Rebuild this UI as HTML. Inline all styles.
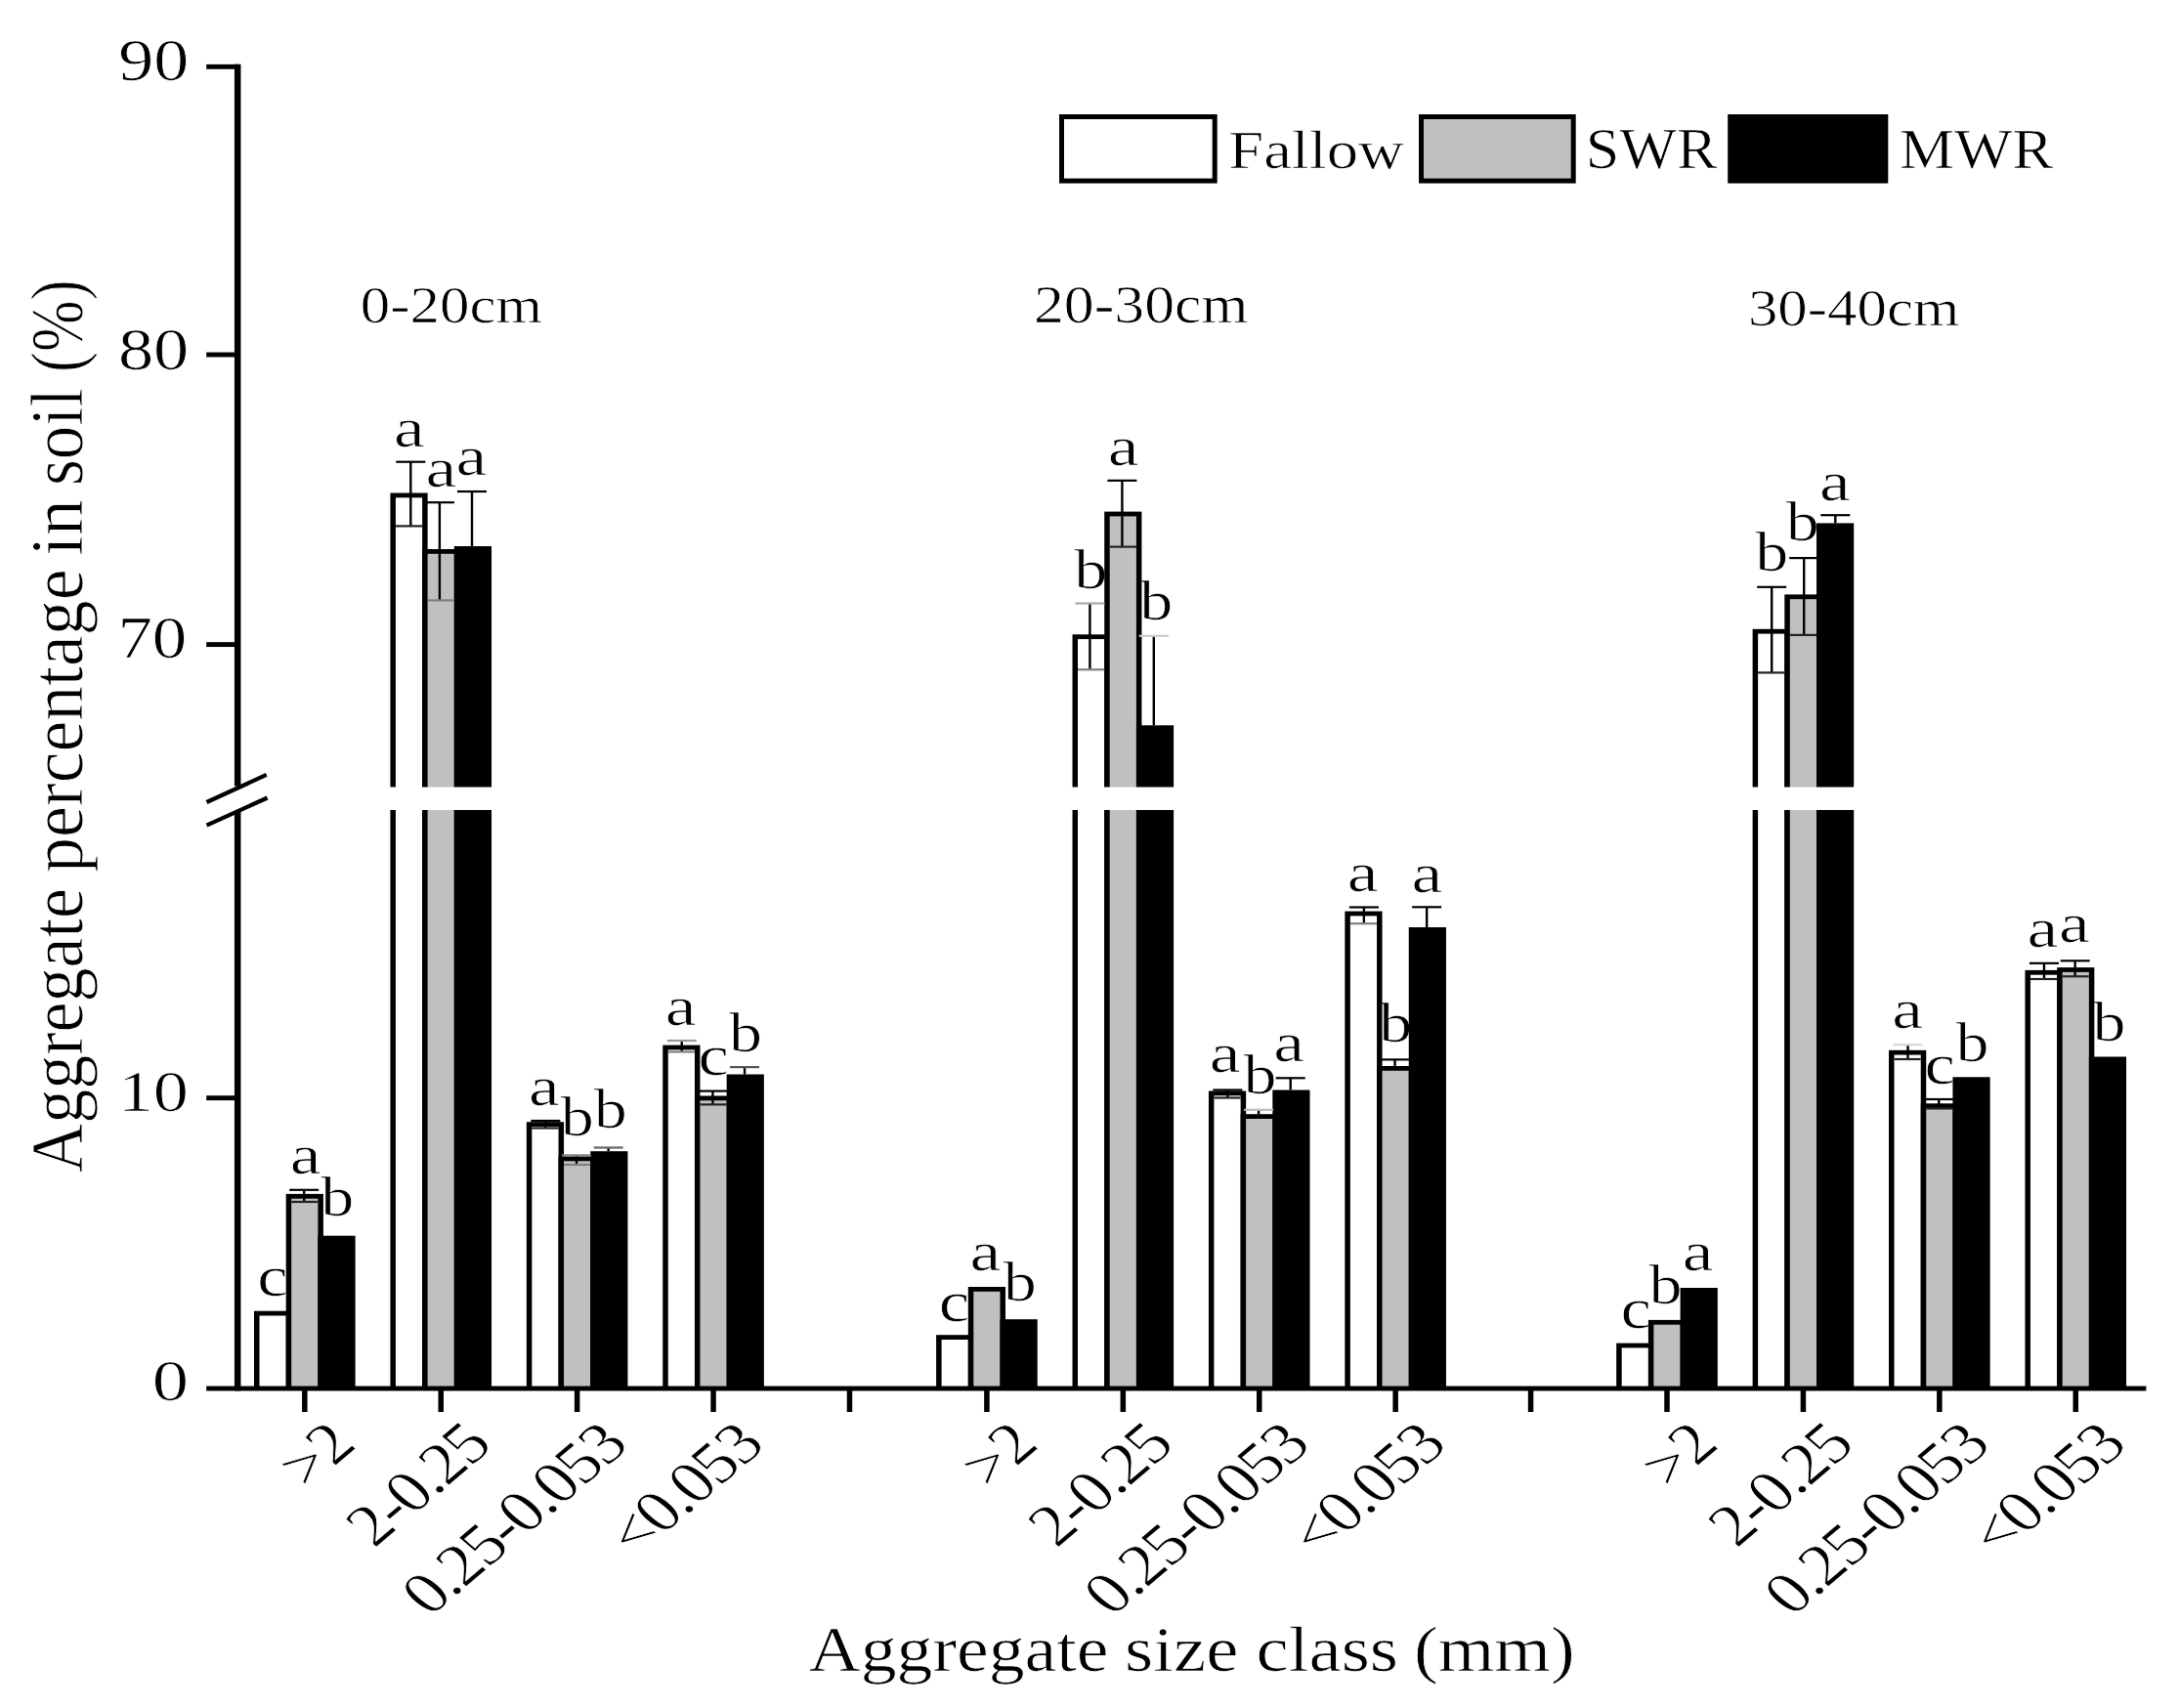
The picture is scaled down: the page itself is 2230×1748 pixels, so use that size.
<!DOCTYPE html>
<html lang="en"><head><meta charset="utf-8"><title>Aggregate percentage in soil</title>
<style>html,body{margin:0;padding:0;background:#fff}svg{display:block}text{stroke:#fff;stroke-width:0.7px;stroke-linejoin:round}</style>
</head><body>
<svg width="2230" height="1748" viewBox="0 0 2230 1748" font-family="'Liberation Serif', serif" fill="#000">
<rect width="2230" height="1748" fill="#fff"/>
<g id="letters">
<text transform="translate(263.3,1325.9) scale(1.2,1)" font-size="59.0">c</text>
<text transform="translate(296.8,1201.3) scale(1.245,1)" font-size="57.5">a</text>
<text transform="translate(328.2,1244.4) scale(1.195,1)" font-size="57.0">b</text>
<text transform="translate(403.0,456.9) scale(1.245,1)" font-size="57.5">a</text>
<text transform="translate(435.6,497.8) scale(1.245,1)" font-size="57.5">a</text>
<text transform="translate(466.6,485.7) scale(1.245,1)" font-size="57.5">a</text>
<text transform="translate(541.1,1131.3) scale(1.245,1)" font-size="57.5">a</text>
<text transform="translate(573.8,1162.2) scale(1.195,1)" font-size="57.0">b</text>
<text transform="translate(607.7,1153.7) scale(1.195,1)" font-size="57.0">b</text>
<text transform="translate(680.8,1049.2) scale(1.245,1)" font-size="57.5">a</text>
<text transform="translate(714.5,1100.1) scale(1.2,1)" font-size="59.0">c</text>
<text transform="translate(746.1,1075.6) scale(1.195,1)" font-size="57.0">b</text>
<text transform="translate(960.8,1352.0) scale(1.2,1)" font-size="59.0">c</text>
<text transform="translate(992.4,1300.4) scale(1.245,1)" font-size="57.5">a</text>
<text transform="translate(1026.8,1330.9) scale(1.195,1)" font-size="57.0">b</text>
<text transform="translate(1099.2,601.7) scale(1.195,1)" font-size="57.0">b</text>
<text transform="translate(1133.7,475.7) scale(1.245,1)" font-size="57.5">a</text>
<text transform="translate(1166.3,634.1) scale(1.195,1)" font-size="57.0">b</text>
<text transform="translate(1237.8,1097.4) scale(1.245,1)" font-size="57.5">a</text>
<text transform="translate(1272.4,1118.7) scale(1.195,1)" font-size="57.0">b</text>
<text transform="translate(1303.2,1085.5) scale(1.245,1)" font-size="57.5">a</text>
<text transform="translate(1378.7,912.3) scale(1.245,1)" font-size="57.5">a</text>
<text transform="translate(1411.2,1066.1) scale(1.195,1)" font-size="57.0">b</text>
<text transform="translate(1444.4,913.4) scale(1.245,1)" font-size="57.5">a</text>
<text transform="translate(1658.5,1358.8) scale(1.2,1)" font-size="59.0">c</text>
<text transform="translate(1687.4,1334.3) scale(1.195,1)" font-size="57.0">b</text>
<text transform="translate(1721.8,1300.4) scale(1.245,1)" font-size="57.5">a</text>
<text transform="translate(1796.2,584.2) scale(1.195,1)" font-size="57.0">b</text>
<text transform="translate(1827.7,553.3) scale(1.195,1)" font-size="57.0">b</text>
<text transform="translate(1862.0,512.4) scale(1.245,1)" font-size="57.5">a</text>
<text transform="translate(1936.2,1051.9) scale(1.245,1)" font-size="57.5">a</text>
<text transform="translate(1969.4,1108.6) scale(1.2,1)" font-size="59.0">c</text>
<text transform="translate(2001.5,1085.5) scale(1.195,1)" font-size="57.0">b</text>
<text transform="translate(2074.5,968.7) scale(1.245,1)" font-size="57.5">a</text>
<text transform="translate(2107.1,964.3) scale(1.245,1)" font-size="57.5">a</text>
<text transform="translate(2141.5,1065.1) scale(1.195,1)" font-size="57.0">b</text>
</g>
<g id="bars">
<rect x="260.00" y="1341.70" width="38.20" height="79.30" fill="#000"/>
<rect x="265.50" y="1346.50" width="27.20" height="74.50" fill="#fff"/>
<rect x="292.70" y="1221.90" width="38.20" height="199.10" fill="#000"/>
<rect x="298.20" y="1226.70" width="27.20" height="194.30" fill="#c0c0c0"/>
<rect x="325.40" y="1264.70" width="38.20" height="156.30" fill="#000"/>
<rect x="399.42" y="504.50" width="38.20" height="916.50" fill="#000"/>
<rect x="404.92" y="509.30" width="27.20" height="911.70" fill="#fff"/>
<rect x="432.12" y="562.00" width="38.20" height="859.00" fill="#000"/>
<rect x="437.62" y="566.80" width="27.20" height="854.20" fill="#c0c0c0"/>
<rect x="464.82" y="559.00" width="38.20" height="862.00" fill="#000"/>
<rect x="538.84" y="1148.20" width="38.20" height="272.80" fill="#000"/>
<rect x="544.34" y="1153.00" width="27.20" height="268.00" fill="#fff"/>
<rect x="571.54" y="1183.50" width="38.20" height="237.50" fill="#000"/>
<rect x="577.04" y="1188.30" width="27.20" height="232.70" fill="#c0c0c0"/>
<rect x="604.24" y="1178.20" width="38.20" height="242.80" fill="#000"/>
<rect x="678.26" y="1069.60" width="38.20" height="351.40" fill="#000"/>
<rect x="683.76" y="1074.40" width="27.20" height="346.60" fill="#fff"/>
<rect x="710.96" y="1121.50" width="38.20" height="299.50" fill="#000"/>
<rect x="716.46" y="1126.30" width="27.20" height="294.70" fill="#c0c0c0"/>
<rect x="743.66" y="1099.50" width="38.20" height="321.50" fill="#000"/>
<rect x="958.10" y="1366.20" width="38.20" height="54.80" fill="#000"/>
<rect x="963.60" y="1371.00" width="27.20" height="50.00" fill="#fff"/>
<rect x="990.80" y="1317.00" width="38.20" height="104.00" fill="#000"/>
<rect x="996.30" y="1321.80" width="27.20" height="99.20" fill="#c0c0c0"/>
<rect x="1023.50" y="1350.20" width="38.20" height="70.80" fill="#000"/>
<rect x="1097.52" y="649.30" width="38.20" height="771.70" fill="#000"/>
<rect x="1103.02" y="654.10" width="27.20" height="766.90" fill="#fff"/>
<rect x="1130.22" y="523.60" width="38.20" height="897.40" fill="#000"/>
<rect x="1135.72" y="528.40" width="27.20" height="892.60" fill="#c0c0c0"/>
<rect x="1162.92" y="742.30" width="38.20" height="678.70" fill="#000"/>
<rect x="1236.94" y="1116.50" width="38.20" height="304.50" fill="#000"/>
<rect x="1242.44" y="1121.30" width="27.20" height="299.70" fill="#fff"/>
<rect x="1269.64" y="1140.20" width="38.20" height="280.80" fill="#000"/>
<rect x="1275.14" y="1145.00" width="27.20" height="276.00" fill="#c0c0c0"/>
<rect x="1302.34" y="1115.50" width="38.20" height="305.50" fill="#000"/>
<rect x="1376.36" y="932.60" width="38.20" height="488.40" fill="#000"/>
<rect x="1381.86" y="937.40" width="27.20" height="483.60" fill="#fff"/>
<rect x="1409.06" y="1091.00" width="38.20" height="330.00" fill="#000"/>
<rect x="1414.56" y="1095.80" width="27.20" height="325.20" fill="#c0c0c0"/>
<rect x="1441.76" y="949.00" width="38.20" height="472.00" fill="#000"/>
<rect x="1654.20" y="1374.60" width="38.20" height="46.40" fill="#000"/>
<rect x="1659.70" y="1379.40" width="27.20" height="41.60" fill="#fff"/>
<rect x="1686.90" y="1350.90" width="38.20" height="70.10" fill="#000"/>
<rect x="1692.40" y="1355.70" width="27.20" height="65.30" fill="#c0c0c0"/>
<rect x="1719.60" y="1318.00" width="38.20" height="103.00" fill="#000"/>
<rect x="1793.62" y="643.80" width="38.20" height="777.20" fill="#000"/>
<rect x="1799.12" y="648.60" width="27.20" height="772.40" fill="#fff"/>
<rect x="1826.32" y="608.40" width="38.20" height="812.60" fill="#000"/>
<rect x="1831.82" y="613.20" width="27.20" height="807.80" fill="#c0c0c0"/>
<rect x="1859.02" y="535.40" width="38.20" height="885.60" fill="#000"/>
<rect x="1933.04" y="1074.80" width="38.20" height="346.20" fill="#000"/>
<rect x="1938.54" y="1079.60" width="27.20" height="341.40" fill="#fff"/>
<rect x="1965.74" y="1129.30" width="38.20" height="291.70" fill="#000"/>
<rect x="1971.24" y="1134.10" width="27.20" height="286.90" fill="#c0c0c0"/>
<rect x="1998.44" y="1102.30" width="38.20" height="318.70" fill="#000"/>
<rect x="2072.46" y="992.90" width="38.20" height="428.10" fill="#000"/>
<rect x="2077.96" y="997.70" width="27.20" height="423.30" fill="#fff"/>
<rect x="2105.16" y="990.10" width="38.20" height="430.90" fill="#000"/>
<rect x="2110.66" y="994.90" width="27.20" height="426.10" fill="#c0c0c0"/>
<rect x="2137.86" y="1081.50" width="38.20" height="339.50" fill="#000"/>
</g>
<g id="err">
<rect x="310.00" y="1217.80" width="2.40" height="12.20" fill="#000"/>
<rect x="296.20" y="1216.70" width="30.00" height="2.20" fill="#000"/>
<rect x="298.20" y="1228.90" width="27.20" height="2.20" fill="#222"/>
<rect x="419.10" y="472.70" width="2.40" height="65.70" fill="#000"/>
<rect x="405.30" y="471.60" width="30.00" height="2.20" fill="#000"/>
<rect x="404.92" y="537.30" width="27.20" height="2.20" fill="#222"/>
<rect x="448.70" y="514.20" width="2.40" height="100.20" fill="#000"/>
<rect x="434.90" y="513.10" width="30.00" height="2.20" fill="#000"/>
<rect x="437.62" y="613.30" width="27.20" height="2.20" fill="#808080"/>
<rect x="481.80" y="503.00" width="2.40" height="56.00" fill="#000"/>
<rect x="468.00" y="501.90" width="30.00" height="2.20" fill="#000"/>
<rect x="557.14" y="1147.00" width="2.40" height="7.50" fill="#000"/>
<rect x="543.34" y="1145.90" width="30.00" height="2.20" fill="#000"/>
<rect x="544.34" y="1153.40" width="27.20" height="2.20" fill="#222"/>
<rect x="588.84" y="1182.40" width="2.40" height="9.60" fill="#000"/>
<rect x="575.04" y="1181.30" width="30.00" height="2.20" fill="#808080"/>
<rect x="577.04" y="1190.90" width="27.20" height="2.20" fill="#808080"/>
<rect x="621.44" y="1174.50" width="2.40" height="3.70" fill="#000"/>
<rect x="607.64" y="1173.40" width="30.00" height="2.20" fill="#666"/>
<rect x="696.56" y="1065.00" width="2.40" height="11.50" fill="#000"/>
<rect x="682.76" y="1063.90" width="30.00" height="2.20" fill="#999"/>
<rect x="683.76" y="1075.40" width="27.20" height="2.20" fill="#808080"/>
<rect x="728.26" y="1116.60" width="2.40" height="13.80" fill="#000"/>
<rect x="714.46" y="1115.50" width="30.00" height="2.20" fill="#000"/>
<rect x="716.46" y="1129.30" width="27.20" height="2.20" fill="#222"/>
<rect x="760.86" y="1092.10" width="2.40" height="7.40" fill="#000"/>
<rect x="747.06" y="1091.00" width="30.00" height="2.20" fill="#555"/>
<rect x="1114.20" y="617.50" width="2.40" height="67.80" fill="#000"/>
<rect x="1100.40" y="616.40" width="30.00" height="2.20" fill="#aaa"/>
<rect x="1103.02" y="684.20" width="27.20" height="2.20" fill="#808080"/>
<rect x="1147.20" y="491.80" width="2.40" height="67.80" fill="#000"/>
<rect x="1133.40" y="490.70" width="30.00" height="2.20" fill="#000"/>
<rect x="1135.72" y="558.50" width="27.20" height="2.20" fill="#222"/>
<rect x="1179.60" y="650.80" width="2.40" height="91.50" fill="#000"/>
<rect x="1165.80" y="649.70" width="30.00" height="2.20" fill="#ccc"/>
<rect x="1255.24" y="1115.50" width="2.40" height="8.00" fill="#000"/>
<rect x="1241.44" y="1114.40" width="30.00" height="2.20" fill="#000"/>
<rect x="1242.44" y="1122.40" width="27.20" height="2.20" fill="#222"/>
<rect x="1286.94" y="1135.80" width="2.40" height="4.40" fill="#000"/>
<rect x="1273.14" y="1134.70" width="30.00" height="2.20" fill="#bbb"/>
<rect x="1319.54" y="1103.30" width="2.40" height="12.20" fill="#000"/>
<rect x="1305.74" y="1102.20" width="30.00" height="2.20" fill="#000"/>
<rect x="1394.66" y="928.50" width="2.40" height="16.70" fill="#000"/>
<rect x="1380.86" y="927.40" width="30.00" height="2.20" fill="#000"/>
<rect x="1381.86" y="944.10" width="27.20" height="2.20" fill="#808080"/>
<rect x="1426.36" y="1084.40" width="2.40" height="6.60" fill="#000"/>
<rect x="1412.56" y="1083.30" width="30.00" height="2.20" fill="#000"/>
<rect x="1458.96" y="928.30" width="2.40" height="20.70" fill="#000"/>
<rect x="1445.16" y="927.20" width="30.00" height="2.20" fill="#000"/>
<rect x="1812.00" y="600.80" width="2.40" height="87.60" fill="#000"/>
<rect x="1798.20" y="599.70" width="30.00" height="2.20" fill="#000"/>
<rect x="1799.12" y="687.30" width="27.20" height="2.20" fill="#222"/>
<rect x="1845.00" y="571.10" width="2.40" height="78.80" fill="#000"/>
<rect x="1831.20" y="570.00" width="30.00" height="2.20" fill="#000"/>
<rect x="1831.82" y="648.80" width="27.20" height="2.20" fill="#222"/>
<rect x="1877.10" y="527.20" width="2.40" height="8.20" fill="#000"/>
<rect x="1863.30" y="526.10" width="30.00" height="2.20" fill="#000"/>
<rect x="1951.34" y="1069.20" width="2.40" height="14.80" fill="#000"/>
<rect x="1937.54" y="1068.10" width="30.00" height="2.20" fill="#d8d8d8"/>
<rect x="1938.54" y="1082.90" width="27.20" height="2.20" fill="#222"/>
<rect x="1983.04" y="1125.00" width="2.40" height="9.50" fill="#000"/>
<rect x="1969.24" y="1123.90" width="30.00" height="2.20" fill="#000"/>
<rect x="1971.24" y="1133.40" width="27.20" height="2.20" fill="#222"/>
<rect x="2090.76" y="985.80" width="2.40" height="16.20" fill="#000"/>
<rect x="2076.96" y="984.70" width="30.00" height="2.20" fill="#000"/>
<rect x="2077.96" y="1000.90" width="27.20" height="2.20" fill="#222"/>
<rect x="2122.46" y="983.30" width="2.40" height="16.00" fill="#000"/>
<rect x="2108.66" y="982.20" width="30.00" height="2.20" fill="#000"/>
<rect x="2110.66" y="998.20" width="27.20" height="2.20" fill="#222"/>
</g>
<rect x="249.7" y="805.5" width="1980.3" height="23.5" fill="#fff"/>
<g id="axes">
<rect x="239.95" y="65.70" width="6.50" height="738.80" fill="#000"/>
<rect x="239.95" y="830.00" width="6.50" height="593.45" fill="#000"/>
<rect x="211.20" y="1418.55" width="1985.20" height="4.90" fill="#000"/>
<rect x="211.20" y="65.85" width="32.00" height="4.90" fill="#000"/>
<rect x="211.20" y="360.55" width="32.00" height="4.90" fill="#000"/>
<rect x="211.20" y="657.15" width="32.00" height="4.90" fill="#000"/>
<rect x="211.20" y="1121.25" width="32.00" height="4.90" fill="#000"/>
<rect x="309.05" y="1421.00" width="5.50" height="24.00" fill="#000"/>
<rect x="448.47" y="1421.00" width="5.50" height="24.00" fill="#000"/>
<rect x="587.89" y="1421.00" width="5.50" height="24.00" fill="#000"/>
<rect x="727.31" y="1421.00" width="5.50" height="24.00" fill="#000"/>
<rect x="866.73" y="1421.00" width="5.50" height="24.00" fill="#000"/>
<rect x="1007.15" y="1421.00" width="5.50" height="24.00" fill="#000"/>
<rect x="1146.57" y="1421.00" width="5.50" height="24.00" fill="#000"/>
<rect x="1285.99" y="1421.00" width="5.50" height="24.00" fill="#000"/>
<rect x="1425.41" y="1421.00" width="5.50" height="24.00" fill="#000"/>
<rect x="1563.83" y="1421.00" width="5.50" height="24.00" fill="#000"/>
<rect x="1703.25" y="1421.00" width="5.50" height="24.00" fill="#000"/>
<rect x="1842.67" y="1421.00" width="5.50" height="24.00" fill="#000"/>
<rect x="1982.09" y="1421.00" width="5.50" height="24.00" fill="#000"/>
<rect x="2121.51" y="1421.00" width="5.50" height="24.00" fill="#000"/>
<line x1="211.5" y1="821" x2="272.7" y2="792.9" stroke="#000" stroke-width="4.2"/>
<line x1="211.5" y1="844.7" x2="273.6" y2="816.5" stroke="#000" stroke-width="4.2"/>
</g>
<g id="ylabels">
<text transform="translate(121.26,81.79) scale(1.1746,1)" font-size="61.33" >90</text>
<text transform="translate(120.88,378.09) scale(1.1867,1)" font-size="61.04" >80</text>
<text transform="translate(120.39,672.99) scale(1.1667,1)" font-size="60.74" >70</text>
<text transform="translate(120.68,1136.81) scale(1.2250,1)" font-size="58.96" >10</text>
<text transform="translate(155.70,1433.01) scale(1.2650,1)" font-size="58.96" >0</text>
</g>
<g id="groups">
<text transform="translate(368.71,330.47) scale(1.1428,1)" font-size="53.33" >0-20cm</text>
<text transform="translate(1057.98,330.16) scale(1.1452,1)" font-size="53.93" >20-30cm</text>
<text transform="translate(1788.91,333.28) scale(1.1673,1)" font-size="52.15" >30-40cm</text>
</g>
<g id="legend">
<rect x="1086.5" y="119.5" width="156.7" height="65.6" fill="#fff" stroke="#000" stroke-width="5"/>
<rect x="1454.5" y="119.5" width="155.7" height="65.6" fill="#c0c0c0" stroke="#000" stroke-width="5"/>
<rect x="1770.7" y="119.5" width="159.1" height="65.6" fill="#000" stroke="#000" stroke-width="5"/>
<text transform="translate(1257.22,171.95) scale(1.1749,1)" font-size="55.04" >Fallow</text>
<text transform="translate(1622.81,172.12) scale(1.0575,1)" font-size="58.75" >SWR</text>
<text transform="translate(1943.97,171.76) scale(1.1218,1)" font-size="56.12" >MWR</text>
</g>
<g id="titles">
<text transform="translate(827.56,1709.80) scale(1.1337,1)" font-size="65">Aggregate</text>
<text transform="translate(1151.11,1709.80) scale(1.1518,1)" font-size="65">size</text>
<text transform="translate(1285.49,1709.80) scale(1.1518,1)" font-size="65">class</text>
<text transform="translate(1446.95,1709.80) scale(1.1407,1)" font-size="65">(mm)</text>
<text transform="translate(84.30,1200.20) rotate(-90) scale(1.1655,1.2833)" font-size="60">Aggregate</text>
<text transform="translate(84.30,892.88) rotate(-90) scale(1.1948,1.2833)" font-size="60">percentage</text>
<text transform="translate(84.30,568.88) rotate(-90) scale(1.2368,1.2833)" font-size="60">in</text>
<text transform="translate(84.30,497.06) rotate(-90) scale(1.1504,1.2833)" font-size="60">soil</text>
<text transform="translate(84.30,380.88) rotate(-90) scale(1.0513,1.2833)" font-size="60">(%)</text>
</g>
<g id="xlabels" text-anchor="end" font-size="61" letter-spacing="-1.85">
<text transform="translate(365.4,1481.6) scale(1.175,1) rotate(-45)">&gt;2</text>
<text transform="translate(504.8,1481.6) scale(1.175,1) rotate(-45)">2-0.25</text>
<text transform="translate(644.2,1481.6) scale(1.175,1) rotate(-45)">0.25-0.053</text>
<text transform="translate(783.7,1481.6) scale(1.175,1) rotate(-45)">&lt;0.053</text>
<text transform="translate(1063.5,1481.6) scale(1.175,1) rotate(-45)">&gt;2</text>
<text transform="translate(1202.9,1481.6) scale(1.175,1) rotate(-45)">2-0.25</text>
<text transform="translate(1342.3,1481.6) scale(1.175,1) rotate(-45)">0.25-0.053</text>
<text transform="translate(1481.8,1481.6) scale(1.175,1) rotate(-45)">&lt;0.053</text>
<text transform="translate(1759.6,1481.6) scale(1.175,1) rotate(-45)">&gt;2</text>
<text transform="translate(1899.0,1481.6) scale(1.175,1) rotate(-45)">2-0.25</text>
<text transform="translate(2038.4,1481.6) scale(1.175,1) rotate(-45)">0.25-0.053</text>
<text transform="translate(2177.9,1481.6) scale(1.175,1) rotate(-45)">&lt;0.053</text>
</g>
</svg>
</body></html>
